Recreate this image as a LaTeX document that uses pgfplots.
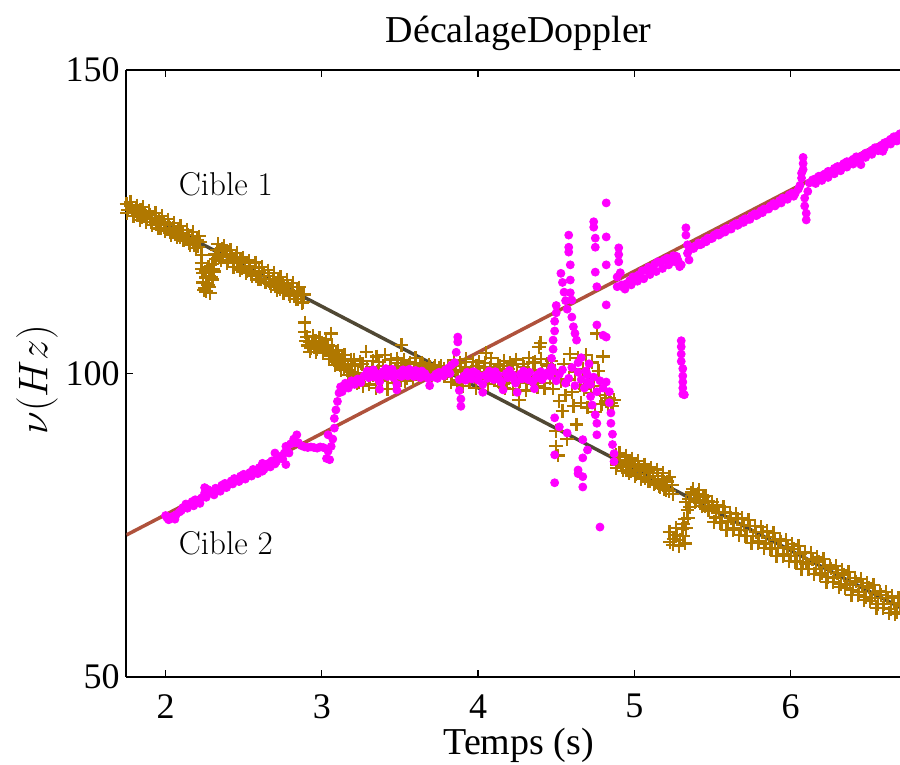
\documentclass[border=0pt]{standalone}
\usepackage{fontspec}
\newfontfamily\timesfont{Liberation Serif}
\usepackage{pgfplots}
\pgfplotsset{compat=1.18}
\definecolor{goldc}{RGB}{176,120,0}
\definecolor{darkl}{RGB}{80,72,52}
\definecolor{redl}{RGB}{175,82,60}
\definecolor{mag}{RGB}{255,0,255}
\begin{document}
\begin{tikzpicture}
\begin{axis}[
  scale only axis, width=386.75pt, height=303.5pt,
  xmin=1.75, xmax=6.7, ymin=50, ymax=150,
  axis x line*=box, axis y line*=left,
  xtick={2,3,4,5,6}, ytick={50,100,150},
  tick align=inside, major tick length=3.5pt,
  every tick/.style={black, line width=0.6pt},
  axis line style={black, line width=1pt},
  /pgf/number format/assume math mode=true,
  tick label style={font=\fontsize{18}{18}\timesfont},
  xticklabel style={inner sep=0pt, anchor=north, yshift=-8.5pt},
  yticklabel style={inner sep=0pt, anchor=east, xshift=-3.25pt},
  every axis title/.style={at={(axis description cs:0.507,1.0445)}, anchor=base, font=\fontsize{19}{19}\timesfont},
  every axis x label/.style={at={(axis description cs:0.507,-0.128)}, anchor=base, inner sep=0pt, font=\fontsize{19}{19}\timesfont},
  every axis y label/.style={at={(axis description cs:-0.1157,0.49)}, rotate=90, anchor=center, font=\fontsize{19.5}{19.5}\selectfont},
  title={DécalageDoppler},
  xlabel={Temps (s)},
  ylabel={$\nu(Hz)$},
  gold/.style={only marks, mark=+, mark size=3.4pt, mark options={goldc, line width=1.1pt}},
  pink/.style={only marks, mark=*, mark size=2pt, mark options={draw=mag, fill=mag}},
]
\coordinate (sw) at (rel axis cs:0,0);
\coordinate (ne) at (rel axis cs:1,1);
% true trajectories
\addplot[darkl, line width=1.75pt] coordinates {(1.75,127.8) (6.7,61.47)};
\addplot[redl, line width=1.75pt] coordinates {(1.75,73.4) (6.7,139.58)};
% Cible 1 estimates
\addplot[gold] coordinates {
(1.75,127.9) (1.76,127.0) (1.78,127.6) (1.79,126.6) (1.81,127.2) (1.82,126.1) (1.84,126.9) (1.85,125.8) (1.87,126.5) (1.88,125.4)
(1.90,126.2) (1.91,124.9) (1.93,125.6) (1.94,124.6) (1.96,125.3) (1.97,124.0) (1.99,124.9) (2.00,123.8) (2.02,124.5) (2.03,123.2)
(2.05,124.0) (2.06,122.9) (2.08,123.6) (2.09,122.4) (2.11,123.1) (2.12,122.0) (2.14,122.8) (2.15,121.5) (2.17,122.3) (2.18,121.2)
(2.20,122.0) (2.21,120.9) (2.22,121.6)
(2.23,119.5) (2.23,118.2) (2.24,116.5) (2.24,115.0) (2.25,114.0) (2.26,115.8) (2.26,113.5) (2.27,114.6) (2.28,116.0) (2.28,114.2)
(2.29,117.0) (2.30,115.5) (2.30,118.0) (2.31,116.8) (2.32,118.8)
(2.33,120.4) (2.34,119.2) (2.36,120.6) (2.37,119.5) (2.39,120.2) (2.40,118.6) (2.42,119.6) (2.43,118.3) (2.45,119.1) (2.46,117.6)
(2.48,118.6) (2.49,117.3) (2.51,118.2) (2.52,116.8) (2.54,117.7) (2.55,116.4) (2.57,117.4) (2.58,116.0) (2.60,116.9) (2.61,115.6)
(2.63,116.5) (2.64,115.0) (2.66,116.0) (2.67,114.8) (2.69,115.6) (2.70,114.3) (2.72,115.3) (2.73,113.9) (2.75,114.9) (2.76,113.5)
(2.78,114.5) (2.79,113.0) (2.81,114.2) (2.82,112.8) (2.84,113.6) (2.85,112.3) (2.87,113.1) (2.88,111.8)
(2.89,108.4) (2.89,106.8) (2.90,105.3) (2.91,104.6) (2.92,105.2) (2.93,104.2) (2.94,105.0) (2.95,104.4) (2.96,105.4) (2.97,104.0)
(2.98,104.8) (2.99,104.3) (3.00,105.1) (3.01,104.1) (3.02,104.7) (3.03,103.8) (3.04,104.6) (3.05,103.2) (3.06,106.6)
(3.06,102.9) (3.07,103.6) (3.08,102.2) (3.09,103.2) (3.10,101.8) (3.11,102.8) (3.12,101.3) (3.13,102.4) (3.14,100.9) (3.15,102.0)
(3.16,100.6) (3.17,101.5) (3.18,100.2) (3.19,101.2)
(3.20,99.6) (3.21,101.3) (3.23,100.0) (3.24,98.6) (3.26,101.6) (3.27,99.4) (3.29,100.8) (3.30,98.2) (3.32,101.0) (3.33,99.8)
(3.35,102.8) (3.36,100.4) (3.38,99.0) (3.39,101.2) (3.41,100.2) (3.42,97.4) (3.44,101.0) (3.45,99.6) (3.47,100.8) (3.48,102.5)
(3.50,99.9) (3.51,104.7) (3.51,101.2) (3.53,98.8) (3.54,100.6) (3.56,101.5) (3.57,99.7) (3.59,100.9) (3.60,102.6) (3.62,100.4)
(3.63,101.2) (3.64,101.7) (3.65,100.0) (3.66,101.0) (3.68,100.5) (3.69,101.1) (3.71,100.3) (3.72,100.9) (3.74,100.4) (3.75,101.0)
(3.77,100.2) (3.78,100.8) (3.80,100.1) (3.81,100.7)
(3.83,99.8) (3.84,101.2) (3.86,100.3) (3.87,98.9) (3.89,100.6) (3.90,99.4) (3.92,101.0) (3.93,99.9) (3.95,98.7) (3.96,100.8)
(3.98,99.5) (3.99,101.3) (4.01,100.2) (4.02,98.4) (4.04,100.9) (4.05,103.4) (4.07,99.6) (4.08,101.0) (4.10,99.2) (4.11,100.4)
(4.13,98.8) (4.14,101.2) (4.16,99.9) (4.17,97.6) (4.19,100.7) (4.20,99.3) (4.22,101.4) (4.23,98.9) (4.25,100.2) (4.26,95.6)
(4.28,99.7) (4.29,101.1) (4.31,98.5) (4.32,100.5) (4.34,99.1) (4.35,101.8) (4.37,99.6) (4.38,97.8) (4.39,104.4) (4.40,105.0)
(4.41,100.3) (4.43,98.4) (4.44,101.6)
(4.46,99.2) (4.47,102.0) (4.48,97.5) (4.49,100.5) (4.50,90.5) (4.50,88.0) (4.51,86.5) (4.52,95.5) (4.53,98.8) (4.54,93.8)
(4.55,101.5) (4.56,96.4) (4.57,89.2) (4.58,99.0) (4.59,103.2) (4.60,97.0) (4.61,94.6) (4.62,100.2) (4.63,91.6) (4.64,102.6)
(4.65,98.1) (4.66,95.2) (4.67,100.8) (4.68,97.4) (4.69,103.0) (4.70,94.4) (4.71,99.6) (4.72,96.8) (4.73,101.8) (4.74,98.0)
(4.75,93.6) (4.76,106.6) (4.77,100.4) (4.78,97.2) (4.79,95.0) (4.80,102.8) (4.81,96.4) (4.82,95.4) (4.83,94.8) (4.84,96.0)
(4.85,95.2) (4.86,94.6) (4.87,95.6)
(4.88,86.6) (4.89,85.0) (4.91,86.2) (4.92,84.6) (4.94,85.8) (4.95,84.1) (4.97,85.4) (4.98,83.9) (5.00,85.0) (5.01,83.4)
(5.03,84.6) (5.04,83.0) (5.06,84.3) (5.07,82.8) (5.09,83.9) (5.10,82.3) (5.12,83.6) (5.13,81.9) (5.15,83.1) (5.16,81.5)
(5.18,82.6) (5.19,81.0) (5.21,82.2) (5.22,80.6) (5.24,81.6)
(5.23,72.2) (5.25,72.8) (5.27,73.4) (5.29,72.6) (5.31,73.2) (5.33,74.5) (5.32,76.0) (5.34,77.5) (5.33,78.8) (5.35,79.3)
(5.38,80.0) (5.39,78.8) (5.41,80.2) (5.42,78.6) (5.44,79.6) (5.45,78.1) (5.47,79.0) (5.48,77.6)
(5.50,78.05) (5.52,76.28) (5.54,77.11) (5.56,75.45) (5.58,77.18) (5.60,75.61) (5.62,76.24) (5.64,74.47) (5.66,76.01) (5.68,74.24)
(5.70,75.07) (5.72,73.20) (5.74,74.83) (5.76,73.27) (5.78,73.90) (5.80,72.43) (5.82,73.86) (5.84,71.99) (5.86,73.03) (5.88,71.16)
(5.90,72.59) (5.92,71.22) (5.94,72.35) (5.96,70.29) (5.98,71.32) (6.00,69.95) (6.02,71.08) (6.04,69.11) (6.06,70.35) (6.08,68.98)
(6.10,68.71) (6.12,67.84) (6.14,69.37) (6.16,67.81) (6.18,69.04) (6.20,67.17) (6.22,68.10) (6.24,66.43) (6.26,67.87) (6.28,66.40)
(6.30,67.13) (6.32,65.26) (6.34,66.89) (6.36,65.23) (6.38,65.86) (6.40,64.39) (6.42,65.72) (6.44,63.95) (6.46,64.99) (6.48,63.22)
(6.50,64.75) (6.52,62.98) (6.54,63.81) (6.56,62.05) (6.58,63.48) (6.60,62.01) (6.62,63.04) (6.64,61.17) (6.66,62.21) (6.68,60.74)
(6.70,61.77)
};
% Cible 1 estimates, second pass (interleaved)
\addplot[gold] coordinates {
(1.755,126.4) (1.775,128.3) (1.795,125.9) (1.815,127.7) (1.835,125.3) (1.855,127.4) (1.875,124.9) (1.895,126.8) (1.915,124.4) (1.935,126.5)
(1.955,123.9) (1.975,125.9) (1.995,123.5) (2.015,125.4) (2.035,122.8) (2.055,124.8) (2.075,122.4) (2.095,124.3) (2.115,121.9) (2.135,123.6)
(2.155,121.2) (2.175,123.3) (2.195,120.7) (2.215,122.6)
(2.235,117.2) (2.245,113.8) (2.255,116.8) (2.265,114.9) (2.275,117.5) (2.285,113.2) (2.295,115.8) (2.305,117.2) (2.315,119.6)
(2.335,121.3) (2.355,118.6) (2.375,121.0) (2.395,118.2) (2.415,120.3) (2.435,117.5) (2.455,119.9) (2.475,117.0) (2.495,119.1) (2.515,116.6)
(2.535,118.6) (2.555,116.0) (2.575,118.3) (2.595,115.5) (2.615,117.6) (2.635,115.0) (2.655,117.0) (2.675,114.4) (2.695,116.6) (2.715,113.8)
(2.735,115.9) (2.755,113.3) (2.775,115.4) (2.795,112.8) (2.815,114.9) (2.835,112.3) (2.855,114.2) (2.875,111.6) (2.885,113.0)
(2.905,106.0) (2.925,103.6) (2.945,106.2) (2.965,103.5) (2.985,105.9) (3.005,103.4) (3.025,105.6) (3.045,102.4) (3.065,104.5) (3.085,101.4)
(3.105,103.8) (3.125,100.6) (3.145,103.0) (3.165,99.8) (3.185,102.3)
(3.205,102.3) (3.225,98.4) (3.245,102.0) (3.265,97.9) (3.285,103.6) (3.305,99.2) (3.325,102.1) (3.345,97.6) (3.365,101.9) (3.385,98.7)
(3.405,103.0) (3.425,99.4) (3.445,102.3) (3.465,98.5) (3.485,101.7) (3.505,98.9) (3.525,102.2) (3.545,99.3) (3.565,101.8) (3.585,99.0)
(3.605,101.6) (3.625,99.5) (3.645,101.4) (3.665,99.9) (3.685,101.5) (3.705,99.8) (3.725,101.3) (3.745,99.7) (3.765,101.2) (3.785,99.5)
(3.805,101.0) (3.825,98.6) (3.845,102.2) (3.865,98.2) (3.885,101.8) (3.905,97.9) (3.925,102.4) (3.945,98.6) (3.965,101.9) (3.985,97.6)
(4.005,102.0) (4.025,99.1) (4.045,101.7) (4.065,98.3) (4.085,102.5) (4.105,98.9) (4.125,101.6) (4.145,97.9) (4.165,102.1) (4.185,98.5)
(4.205,101.8) (4.225,97.4) (4.245,102.3) (4.265,98.8) (4.285,101.5) (4.305,97.2) (4.325,102.6) (4.345,98.3) (4.365,101.9) (4.385,98.0)
(4.405,102.4) (4.425,97.6) (4.445,101.2)
(4.885,84.4) (4.905,86.9) (4.925,84.0) (4.945,86.5) (4.965,83.6) (4.985,86.0) (5.005,83.1) (5.025,85.6) (5.045,82.6) (5.065,85.0)
(5.085,82.2) (5.105,84.5) (5.125,81.7) (5.145,84.2) (5.165,81.2) (5.185,83.6) (5.205,80.8) (5.225,83.0) (5.245,80.1)
(5.225,73.9) (5.245,71.8) (5.265,74.6) (5.285,71.6) (5.305,74.4) (5.325,72.0) (5.315,75.2) (5.345,76.2) (5.355,78.0) (5.365,80.4)
(5.375,81.0) (5.395,79.0) (5.415,80.8) (5.435,78.2) (5.455,79.8) (5.475,77.4) (5.495,78.8)
(5.51,75.52) (5.53,78.35) (5.55,75.38) (5.57,78.01) (5.59,74.25) (5.61,76.98) (5.63,74.21) (5.65,76.84) (5.67,73.37) (5.69,76.21)
(5.71,73.24) (5.73,75.87) (5.75,72.10) (5.77,74.83) (5.79,72.07) (5.81,74.70) (5.83,71.23) (5.85,74.06) (5.87,71.09) (5.89,73.73)
(5.91,69.96) (5.93,72.69) (5.95,69.92) (5.97,72.55) (5.99,69.09) (6.01,71.92) (6.03,68.95) (6.05,71.58) (6.07,67.81) (6.09,70.55)
(6.11,67.78) (6.13,70.41) (6.15,66.94) (6.17,69.77) (6.19,66.81) (6.21,69.44) (6.23,65.67) (6.25,68.40) (6.27,65.63) (6.29,68.27)
(6.31,64.80) (6.33,67.63) (6.35,64.66) (6.37,67.29) (6.39,63.53) (6.41,66.26) (6.43,63.49) (6.45,66.12) (6.47,62.65) (6.49,65.49)
(6.51,62.52) (6.53,65.15) (6.55,61.38) (6.57,64.11) (6.59,61.35) (6.61,63.98) (6.63,60.51) (6.65,63.34) (6.67,60.37) (6.69,63.01)
};
% Cible 2 estimates
\addplot[pink] coordinates {
(2.00,76.6) (2.01,76.2) (2.03,76.3) (2.05,76.5) (2.07,76.8) (2.09,77.2) (2.11,77.9) (2.13,78.5) (2.15,78.3) (2.17,78.9)
(2.19,79.2) (2.21,79.0) (2.23,79.5) (2.25,80.3) (2.25,81.2) (2.26,79.6) (2.28,80.4) (2.30,80.6) (2.32,81.1) (2.34,80.9)
(2.36,81.6) (2.38,81.9) (2.40,81.7) (2.42,82.3) (2.44,82.7) (2.46,82.5) (2.48,83.1) (2.50,83.4) (2.52,83.0) (2.54,83.7)
(2.56,84.2) (2.58,84.0) (2.60,84.5) (2.62,85.2) (2.62,83.9) (2.64,84.8) (2.66,85.2) (2.68,85.6) (2.70,86.9) (2.70,85.1)
(2.72,86.2) (2.74,86.4) (2.76,86.9) (2.77,85.0) (2.77,88.0) (2.78,87.2) (2.80,88.4) (2.82,89.2) (2.84,89.9) (2.85,88.6)
(2.87,88.1) (2.89,87.9) (2.91,87.8) (2.93,87.9) (2.95,87.8) (2.97,87.7) (2.99,87.9) (3.01,87.8) (3.03,86.0) (3.04,89.9)
(3.04,87.2) (3.05,85.8) (3.06,88.0) (3.07,89.2) (3.08,91.0) (3.08,92.6) (3.09,94.0) (3.10,95.4) (3.11,96.8)
(2.02,75.9) (2.06,76.0) (2.10,77.4) (2.14,77.8) (2.18,78.2) (2.22,78.6) (2.27,80.9) (2.31,80.0) (2.35,80.6) (2.39,81.2)
(2.43,81.8) (2.47,82.2) (2.51,82.6) (2.55,83.1) (2.59,83.5) (2.63,84.2) (2.67,84.6) (2.71,85.5) (2.75,85.9) (2.79,86.9) (2.83,88.6)
(3.12,97.8) (3.13,97.0) (3.15,98.4) (3.17,97.6) (3.19,98.8) (3.21,98.2) (3.23,99.1) (3.25,98.5) (3.27,99.6) (3.29,100.4)
(3.31,99.8) (3.33,100.6) (3.35,100.0) (3.37,98.6) (3.37,97.4) (3.39,100.3) (3.41,100.8) (3.43,100.2) (3.45,100.7) (3.47,99.9)
(3.48,98.2) (3.48,97.3) (3.50,100.1) (3.52,100.6) (3.54,100.3) (3.56,100.7) (3.58,100.2) (3.60,100.5) (3.62,99.9) (3.64,100.4)
(3.66,100.0) (3.68,99.2) (3.69,98.0) (3.71,99.4) (3.73,99.9) (3.75,100.2) (3.77,100.0) (3.79,100.6) (3.81,100.9) (3.83,101.4)
(3.85,101.8) (3.86,103.5) (3.87,105.2) (3.87,106.0) (3.88,99.0) (3.88,97.2) (3.89,95.8) (3.89,94.6) (3.91,99.6) (3.93,100.2)
(3.95,99.8) (3.97,100.3) (3.99,100.0) (4.01,99.6) (4.03,98.2) (4.03,96.9) (4.05,99.8) (4.07,100.4) (4.09,99.9) (4.11,100.3)
(4.13,99.7) (4.15,98.5) (4.16,97.3) (4.18,100.0) (4.20,100.5) (4.22,99.8) (4.24,98.4) (4.25,96.9) (4.27,99.9) (4.29,100.4)
(4.31,99.6) (4.33,100.2) (4.35,98.6) (4.36,97.5) (4.38,99.8) (4.40,100.3) (4.42,99.5) (4.44,100.1)
(3.30,99.3) (3.34,99.4) (3.38,99.6) (3.42,99.5) (3.46,99.3) (3.51,99.5) (3.55,99.6) (3.59,99.5) (3.63,99.3) (3.67,99.5)
(3.74,99.2) (3.78,99.6) (3.82,100.0) (3.92,98.9) (3.96,99.1) (4.00,98.9) (4.06,99.2) (4.10,99.0) (4.14,98.9) (4.19,99.3)
(4.23,99.0) (4.28,99.1) (4.32,99.0) (4.37,99.2) (4.41,99.0)
(4.46,99.6) (4.48,100.4) (4.50,98.8) (4.52,99.9) (4.54,100.6) (4.56,98.4) (4.58,99.2) (4.60,101.0) (4.62,98.0) (4.64,100.2)
(4.66,99.0) (4.68,97.6) (4.70,99.8) (4.72,98.2) (4.74,99.4) (4.76,97.0) (4.78,98.8) (4.80,97.6) (4.82,98.6)
(4.47,101.0) (4.47,102.5) (4.48,104.0) (4.48,105.5) (4.49,107.0) (4.49,108.6) (4.50,110.0) (4.50,111.2)
(4.53,116.5) (4.54,115.0) (4.55,113.4) (4.56,112.0) (4.57,110.6)
(4.58,122.8) (4.58,120.8) (4.58,120.0) (4.59,117.9) (4.59,115.4) (4.59,113.3) (4.60,112.1) (4.60,109.3) (4.61,107.7) (4.62,106.6) (4.63,105.5)
(4.74,125.0) (4.74,124.1) (4.75,122.3) (4.75,120.8) (4.75,116.7) (4.76,114.3) (4.76,108.0) (4.80,106.3)
(4.82,128.1) (4.82,122.5) (4.82,117.9) (4.82,111.3) (4.82,106.0)
(4.49,92.7) (4.49,86.6) (4.49,82.0) (4.52,91.2) (4.57,90.2) (4.64,84.1) (4.64,83.5) (4.67,89.1) (4.67,86.1) (4.67,83.0)
(4.67,81.3) (4.70,87.4) (4.76,91.8) (4.76,89.9) (4.78,74.7)
(4.64,101.8) (4.66,102.6) (4.70,98.6) (4.72,96.2) (4.73,94.8) (4.75,93.2) (4.71,101.6) (4.69,100.4)
(4.84,97.0) (4.84,95.2) (4.85,93.5) (4.85,91.8) (4.86,90.0) (4.86,88.3) (4.87,86.8) (4.87,85.5)
(4.89,115.9) (4.89,114.3) (4.90,118.4) (4.90,119.6) (4.90,120.7) (4.91,116.6) (4.92,114.6) (4.93,114.2) (4.95,114.8) (4.97,115.3)
(4.99,115.9) (5.01,116.0) (5.03,116.3) (5.05,116.9) (5.07,117.0) (5.09,117.5) (5.11,117.4) (5.13,118.0) (5.15,118.4) (5.17,118.2)
(5.19,118.7) (5.21,119.0) (5.23,118.8) (5.25,119.4) (5.27,119.3) (5.28,118.6) (5.29,117.6) (5.30,117.9)
(4.94,113.9) (4.98,114.6) (5.02,115.2) (5.06,115.6) (5.10,116.3) (5.14,116.8) (5.18,117.3) (5.22,117.9) (5.26,118.4)
(5.33,124.0) (5.33,122.8) (5.34,121.2) (5.34,119.8) (5.35,118.7) (5.35,120.3)
(5.37,120.8) (5.39,121.0) (5.41,121.5) (5.43,121.3) (5.45,121.9) (5.47,122.3) (5.49,122.2) (5.51,122.8) (5.53,123.1) (5.55,123.0)
(5.57,123.6) (5.59,123.9) (5.61,123.8) (5.63,124.4) (5.65,124.7) (5.67,124.6) (5.69,125.2) (5.71,125.5) (5.73,125.4) (5.75,126.0)
(5.77,126.3) (5.79,126.2) (5.81,126.8) (5.83,127.1) (5.85,127.1) (5.87,127.6) (5.89,128.0) (5.91,127.9) (5.93,128.5) (5.95,128.9)
(5.97,128.8) (5.99,129.4) (6.01,129.7) (6.03,129.7) (6.05,130.4)
(5.38,120.6) (5.42,121.2) (5.46,121.7) (5.50,122.3) (5.54,122.8) (5.58,123.3) (5.62,123.8) (5.66,124.4) (5.70,124.9) (5.74,125.4)
(5.78,126.0) (5.82,126.5) (5.86,127.1) (5.90,127.6) (5.94,128.1) (5.98,128.7) (6.02,129.2)
(6.06,131.0) (6.07,132.2) (6.07,133.0) (6.08,133.6) (6.08,134.6) (6.08,135.6) (6.09,128.9) (6.09,127.6) (6.10,126.4) (6.10,125.3)
(6.11,130.0) (6.12,131.4)
(6.14,131.9) (6.16,132.1) (6.18,132.5) (6.20,132.6) (6.22,132.9) (6.24,133.3) (6.26,133.3) (6.28,133.8) (6.30,134.1) (6.32,134.1)
(6.34,134.6) (6.36,134.9) (6.38,134.9) (6.40,135.3) (6.42,135.7) (6.44,135.5) (6.45,134.4) (6.46,135.9) (6.48,136.3) (6.50,136.4)
(6.52,136.8) (6.54,137.2) (6.56,137.2) (6.58,137.6) (6.59,136.6) (6.60,138.0) (6.62,138.2) (6.64,138.6) (6.66,139.0) (6.68,139.1)
(6.70,139.5)
(6.16,131.3) (6.20,131.8) (6.24,132.3) (6.28,132.9) (6.32,133.4) (6.36,134.0) (6.40,134.5) (6.44,135.0) (6.48,135.6) (6.52,136.1)
(6.56,136.7) (6.60,137.2) (6.64,137.8) (6.68,138.3)
(5.30,105.4) (5.30,104.4) (5.30,103.2) (5.30,102.0) (5.31,100.8) (5.31,99.6) (5.31,98.6) (5.31,97.6) (5.31,96.6) (5.32,96.5)
};
\node[anchor=base west, font=\fontsize{16.5}{16.5}\selectfont] at (axis cs:2.04,129.4) {Cible 1};
\node[anchor=base west, font=\fontsize{16.5}{16.5}\selectfont] at (axis cs:2.04,70.1) {Cible 2};
\end{axis}
\pgfresetboundingbox
\path ([xshift=-63.25pt,yshift=-44pt]sw) rectangle ([yshift=35pt]ne);
\end{tikzpicture}
\end{document}
